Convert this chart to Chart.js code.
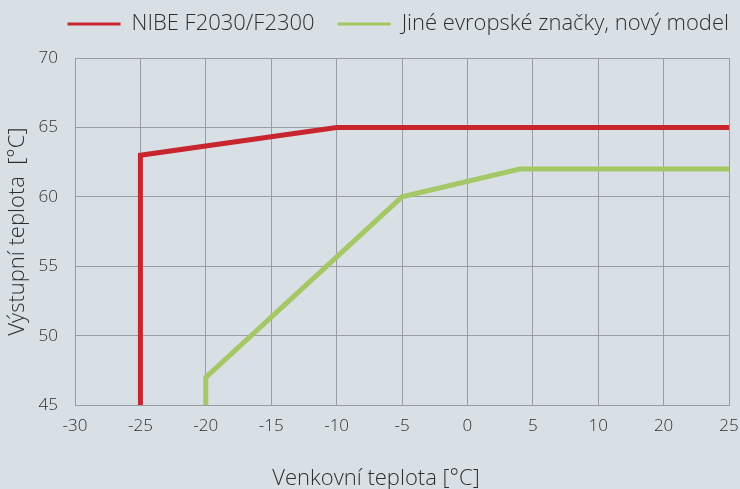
<!DOCTYPE html>
<html>
<head>
<meta charset="utf-8">
<script src="https://cdn.jsdelivr.net/npm/chart.js@4/dist/chart.umd.min.js"></script>
<style>
  html, body { margin: 0; padding: 0; background: #d9e0e5; }
  #wrap { width: 740px; height: 489px; }
</style>
</head>
<body>
<div id="wrap"><canvas id="tempChart"></canvas></div>
<script>
// x ticks are evenly spaced even though 10 -> 20 is a bigger step
const xLabels = [-30, -25, -20, -15, -10, -5, 0, 5, 10, 20, 25];

const nibeTemp = [-25, -25, -10, 25];
const nibeFlow = [45, 63, 65, 65];

const otherTemp = [-20, -20, -5, 4, 25];
const otherFlow = [45, 47, 60, 62, 62];

// map a temperature onto the evenly spaced tick positions
function pos(t) {
    for (let i = 0; i < xLabels.length - 1; i++) {
        if (t <= xLabels[i + 1]) {
            return i + (t - xLabels[i]) / (xLabels[i + 1] - xLabels[i]);
        }
    }
    return xLabels.length - 1;
}

const toPoints = (xs, ys) => xs.map((t, i) => ({ x: pos(t), y: ys[i] }));

const font = 'Open Sans';
const textColor = '#2e2e2e';
const gridColor = '#9a9ea2';

// x title sits centred on the whole picture, not on the plot area
const xTitlePlugin = {
    id: 'xTitle',
    afterLayout(chart) {
        // legend sits higher than its own padding would put it
        chart.legend.top -= 13;
        chart.legend.bottom -= 13;
    },
    afterDraw(chart) {
        const c = chart.ctx;
        c.save();
        c.fillStyle = textColor;
        c.font = '300 22px "' + font + '"';
        c.textAlign = 'center';
        c.textBaseline = 'alphabetic';
        c.fillText(chart.options.scales.x.title.text, 376, 485);
        c.restore();
    }
};

new Chart(document.getElementById('tempChart'), {
    type: 'line',
    data: {
        datasets: [
            {
                label: 'NIBE F2030/F2300',
                data: toPoints(nibeTemp, nibeFlow),
                borderColor: '#c8252f',
                backgroundColor: '#c8252f',
                borderWidth: 5,
                pointRadius: 0,
                tension: 0,
                borderJoinStyle: 'miter'
            },
            {
                label: 'Jiné evropské značky, nový model',
                data: toPoints(otherTemp, otherFlow),
                borderColor: '#a5c866',
                backgroundColor: '#a5c866',
                borderWidth: 5,
                pointRadius: 0,
                tension: 0,
                borderJoinStyle: 'miter'
            }
        ]
    },
    plugins: [xTitlePlugin],
    options: {
        responsive: true,
        maintainAspectRatio: false,
        animation: false,
        layout: { padding: { left: 5, right: -12, top: 0, bottom: 0 } },
        plugins: {
            legend: {
                position: 'top',
                align: 'end',
                labels: {
                    color: textColor,
                    font: { family: font, size: 22, weight: 300 },
                    boxWidth: 53,
                    boxHeight: 3,
                    padding: 23,
                    generateLabels(chart) {
                        return Chart.defaults.plugins.legend.labels.generateLabels(chart)
                            .map(item => ({ ...item, lineWidth: 0 }));
                    }
                }
            },
            tooltip: { enabled: false }
        },
        scales: {
            x: {
                type: 'linear',
                min: 0,
                max: xLabels.length - 1,
                afterFit(scale) {
                    scale.paddingLeft = 0;
                    scale.paddingRight = 11;
                },
                ticks: {
                    stepSize: 1,
                    color: textColor,
                    font: { family: font, size: 17, weight: 300 },
                    maxRotation: 0,
                    padding: 11,
                    callback: v => xLabels[v]
                },
                grid: { color: gridColor, lineWidth: 1, drawTicks: false },
                border: { color: gridColor },
                title: {
                    display: true,
                    text: 'Venkovní teplota [°C]',
                    color: 'transparent',
                    font: { family: font, size: 22, weight: 300 },
                    padding: { top: 15, bottom: 0 }
                }
            },
            y: {
                min: 45,
                max: 70,
                afterFit(scale) {
                    scale.width = 70;
                    scale.paddingTop = 58;
                },
                ticks: {
                    stepSize: 5,
                    color: textColor,
                    font: { family: font, size: 17, weight: 300 },
                    padding: 17
                },
                grid: { color: gridColor, lineWidth: 1, drawTicks: false },
                border: { color: gridColor },
                title: {
                    display: true,
                    text: 'Výstupní teplota  [°C]',
                    color: textColor,
                    font: { family: font, size: 22, weight: 300 },
                    padding: { top: 0, bottom: 8 }
                }
            }
        }
    }
});
</script>
</body>
</html>
